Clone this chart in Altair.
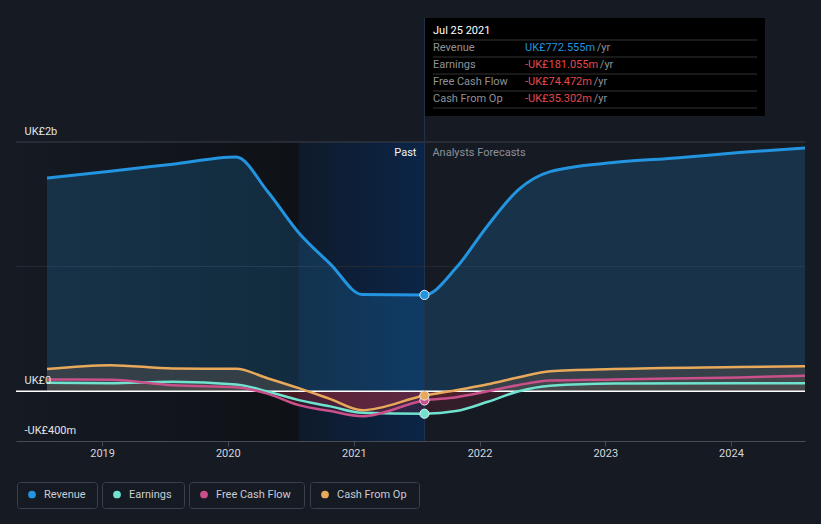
import altair as alt
import pandas as pd

# ---------------- data ----------------
rev_dates = ["2018-07-25", "2019-01-25", "2019-07-25", "2020-01-25", "2020-04-25",
             "2020-07-25", "2020-10-25", "2021-01-25", "2021-07-25", "2021-10-25",
             "2022-01-25", "2022-04-25", "2022-07-25", "2023-01-25",
             "2023-07-25", "2024-01-25", "2024-08-03"]
revenue = [1711, 1765, 1822, 1880, 1605, 1272, 1020, 776, 772.555, 990,
           1330, 1620, 1762, 1835, 1872, 1915, 1952]

dates = ["2018-07-25", "2019-01-25", "2019-07-25", "2020-01-25", "2020-04-25",
         "2020-07-25", "2020-10-25", "2021-01-25", "2021-07-25", "2021-10-25",
         "2022-01-25", "2022-04-25", "2022-07-25", "2023-01-25", "2024-01-25",
         "2024-08-03"]
earnings = [67, 64, 75, 54, -2, -72, -122, -174, -181.055, -160,
            -85, 0, 44, 62, 64, 64]
free_cash_flow = [94, 91, 48, 32, -20, -112, -160, -201, -74.472, -48,
                  0, 50, 85, 94, 110, 124]
cash_from_op = [177, 209, 182, 179, 104, 24, -64, -153, -35.302, 8,
                56, 112, 160, 177, 193, 200]

series_names = ["Revenue", "Earnings", "Free Cash Flow", "Cash From Op"]
series_colors = ["#2394df", "#6fe3d0", "#c9508b", "#e9a95b"]

tip_date = "2021-07-25"
tip_title = "Jul 25 2021"
tip_texts = ["UK£772.555m", "-UK£181.055m", "-UK£74.472m", "-UK£35.302m"]
tip_numbers = [772.555, -181.055, -74.472, -35.302]

x_start = (2018, 4, 26)
x_end = (2024, 8, 3)
year_ticks = [2019, 2020, 2021, 2022, 2023, 2024]
y_domain = [-400, 2000]
y_label_values = [-400, 0, 2000]
y_label_texts = ["-UK£400m", "UK£0", "UK£2b"]
grid_values = [1000, 2000]
shade_start = "2018-04-26"
past_start = "2020-07-25"

# ---------------- style ----------------
BG = "#151a23"
FONT = "Roboto"
W, H = 789, 299
POS_FILL = "rgba(74,74,74,0.6)"
NEG_FILL = "rgba(200,45,65,0.17)"


def text_width(s, size=11):
    w = {"U": 0.635, "K": 0.624, "£": 0.58, "m": 0.876, ".": 0.264, "-": 0.276, " ": 0.248}
    return sum(w.get(c, 0.5615) for c in s) * size


label_expr = "'" + y_label_texts[-1] + "'"
for v, t in zip(y_label_values[:-1], y_label_texts[:-1]):
    label_expr = f"datum.value == {v} ? '{t}' : " + label_expr

x_axis = alt.Axis(values=[alt.DateTime(year=y, month=1, date=1) for y in year_ticks],
                  format="%Y", grid=False, domainColor="#464b54", tickColor="#464b54",
                  tickSize=5, labelPadding=1, labelColor="#d3d6db", labelFontSize=11,
                  labelFont=FONT, title=None, zindex=1, labelFlush=False)
y_axis = alt.Axis(values=y_label_values, labelExpr=label_expr, grid=False, domain=False,
                  ticks=False, tickSize=0, labelAlign="left", labelPadding=-8,
                  labelBaseline="alphabetic", labelOffset=-8, labelColor="#e2e4e8",
                  labelFontSize=11, labelFont=FONT, title=None, zindex=1)
x_scale = alt.Scale(domain=[alt.DateTime(year=x_start[0], month=x_start[1], date=x_start[2]),
                            alt.DateTime(year=x_end[0], month=x_end[1], date=x_end[2])])
y_scale = alt.Scale(domain=y_domain, nice=False, zero=False)


def X(field):
    return alt.X(f"{field}:T", scale=x_scale, axis=x_axis, title=None)


def Y(field):
    return alt.Y(f"{field}:Q", scale=y_scale, axis=y_axis, title=None)


# ---------------- frames ----------------
rev_df = pd.DataFrame({"date": rev_dates, "value": revenue, "series": "Revenue"})
small = {"Earnings": earnings, "Free Cash Flow": free_cash_flow, "Cash From Op": cash_from_op}
small_dfs = {k: pd.DataFrame({"date": dates, "value": v, "series": k}) for k, v in small.items()}
long_df = pd.concat([rev_df] + [small_dfs[k] for k in series_names[1:]], ignore_index=True)

color_enc = alt.Color("series:N", scale=alt.Scale(domain=series_names, range=series_colors), legend=None)

layers = []

# background shading
shade_df = pd.DataFrame({"start": [shade_start], "end": [past_start]})
layers.append(alt.Chart(shade_df).mark_rect(
    fill=alt.Gradient(gradient="linear", x1=0, x2=1, y1=0, y2=0,
                      stops=[alt.GradientStop(color=BG, offset=0),
                             alt.GradientStop(color="#0e1116", offset=1)])
).encode(x=X("start"), x2="end:T", y=alt.value(0), y2=alt.value(H)))

past_df = pd.DataFrame({"start": [past_start], "end": [tip_date]})
layers.append(alt.Chart(past_df).mark_rect(
    fill=alt.Gradient(gradient="linear", x1=0, x2=1, y1=0, y2=0,
                      stops=[alt.GradientStop(color="#0f1a2b", offset=0),
                             alt.GradientStop(color="#0b2547", offset=1)])
).encode(x=X("start"), x2="end:T", y=alt.value(0), y2=alt.value(H)))

# grid lines
grid_df = pd.DataFrame({"v": grid_values, "c": ["#262b34", "#3a3f48"]})
layers.append(alt.Chart(grid_df).mark_rule(strokeWidth=1).encode(
    y=Y("v"), color=alt.Color("c:N", scale=None)))

# revenue area
layers.append(alt.Chart(rev_df).mark_area(interpolate="monotone", color="#2394df", opacity=0.2)
              .encode(x=X("date"), y=Y("value"), y2=alt.datum(0)))

# small series areas (gray above zero, red below zero)
for name in series_names[1:]:
    vals = small[name]
    top = max(0, max(vals))
    bot = min(0, min(vals))
    f = top / (top - bot)
    grad = alt.Gradient(gradient="linear", x1=0, x2=0, y1=0, y2=1,
                        stops=[alt.GradientStop(color=POS_FILL, offset=0),
                               alt.GradientStop(color=POS_FILL, offset=f),
                               alt.GradientStop(color=NEG_FILL, offset=min(1, f + 0.001)),
                               alt.GradientStop(color=NEG_FILL, offset=1)])
    layers.append(alt.Chart(small_dfs[name]).mark_area(interpolate="monotone", fill=grad)
                  .encode(x=X("date"), y=Y("value"), y2=alt.datum(0)))

# zero line
layers.append(alt.Chart(pd.DataFrame({"z": [0]})).mark_rule(color="#ffffff", strokeWidth=1.5)
              .encode(y=Y("z")))

# lines
for name in series_names:
    d = long_df[long_df.series == name]
    layers.append(alt.Chart(d).mark_line(interpolate="monotone",
                                         strokeWidth=3 if name == "Revenue" else 2.5)
                  .encode(x=X("date"), y=Y("value"), color=color_enc))

# vertical marker line
layers.append(alt.Chart(pd.DataFrame({"d": [tip_date]})).mark_rule(color="#22344f", strokeWidth=1)
              .encode(x=X("d"), y=alt.value(-124), y2=alt.value(H)))

# Past / Analysts Forecasts
lab_df = pd.DataFrame({"d": [tip_date]})
layers.append(alt.Chart(lab_df).mark_text(text="Past", align="right", dx=-8, baseline="middle",
                                          font=FONT, fontSize=11, color="#f2f3f5")
              .encode(x=X("d"), y=alt.value(11)))
layers.append(alt.Chart(lab_df).mark_text(text="Analysts Forecasts", align="left", dx=8,
                                          baseline="middle", font=FONT, fontSize=11,
                                          color="#8d9199")
              .encode(x=X("d"), y=alt.value(11)))

# tooltip dots
dot_df = pd.DataFrame({"date": [tip_date] * 4, "value": tip_numbers, "series": series_names})
layers.append(alt.Chart(dot_df).mark_circle(size=85, opacity=1, stroke="#e8ecf0", strokeWidth=1)
              .encode(x=X("date"), y=Y("value"), color=color_enc))

# tooltip box
one = pd.DataFrame({"a": [0]})
layers.append(alt.Chart(one).mark_rect(color="#000000")
              .encode(x=alt.value(409), x2=alt.value(749), y=alt.value(-124), y2=alt.value(-26)))
for yy in [-102, -85, -68, -51, -34]:
    layers.append(alt.Chart(one).mark_rule(color="#333333", strokeWidth=1)
                  .encode(x=alt.value(417), x2=alt.value(741), y=alt.value(yy)))
layers.append(alt.Chart(one).mark_text(align="left", baseline="middle", font=FONT, fontSize=11,
                                       color="#ffffff")
              .encode(x=alt.value(417), y=alt.value(-111), text=alt.value(tip_title)))
for i, (name, txt, num) in enumerate(zip(series_names, tip_texts, tip_numbers)):
    yy = -94 + 17 * i
    vcol = "#2394df" if num >= 0 else "#e5484d"
    layers.append(alt.Chart(one).mark_text(align="left", baseline="middle", font=FONT,
                                           fontSize=11, color="#8f9297")
                  .encode(x=alt.value(417), y=alt.value(yy), text=alt.value(name)))
    layers.append(alt.Chart(one).mark_text(align="left", baseline="middle", font=FONT,
                                           fontSize=11, color=vcol)
                  .encode(x=alt.value(509), y=alt.value(yy), text=alt.value(txt)))
    layers.append(alt.Chart(one).mark_text(align="left", baseline="middle", font=FONT,
                                           fontSize=11, color="#8f9297")
                  .encode(x=alt.value(509 + text_width(txt) + 2), y=alt.value(yy),
                          text=alt.value("/yr")))

# legend (boxed items)
box_x = [(1, 81), (86, 168), (173, 288), (294, 403)]
for (bx0, bx1), name, col in zip(box_x, series_names, series_colors):
    layers.append(alt.Chart(one).mark_rect(fill=BG, stroke="#3b404a", strokeWidth=1, cornerRadius=3)
                  .encode(x=alt.value(bx0 + 0.5), x2=alt.value(bx1 + 0.5),
                          y=alt.value(340.5), y2=alt.value(366.5)))
    layers.append(alt.Chart(one).mark_circle(size=60, opacity=1, color=col)
                  .encode(x=alt.value(bx0 + 15), y=alt.value(352.5)))
    layers.append(alt.Chart(one).mark_text(align="left", baseline="middle", font=FONT,
                                           fontSize=11, color="#c9cdd3")
                  .encode(x=alt.value(bx0 + 27), y=alt.value(353), text=alt.value(name)))

chart = alt.layer(*layers).properties(
    width=W, height=H,
    padding={"left": 16, "top": 142, "right": 16, "bottom": 83},
    autosize=alt.AutoSizeParams(type="none"),
    background=BG,
).configure_view(stroke=None)

chart.save("out.html", embed_options={"renderer": "svg", "actions": False})
